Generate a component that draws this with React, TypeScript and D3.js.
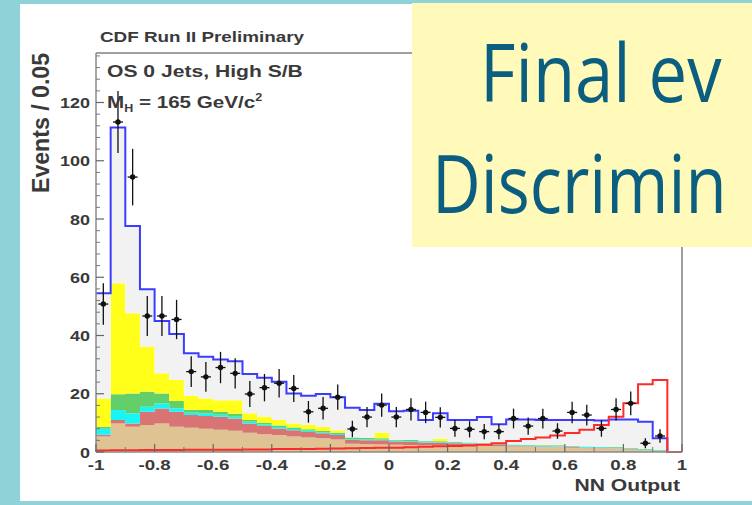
import React from "react";
import * as d3 from "d3";

// ---------- data (40 bins of width 0.05 from -1 to 1) ----------
const NBINS = 40;
const X_MIN = -1;
const BIN_W = 0.05;

// stacked background components (per-bin heights, bottom to top)
const tanBkg = [5.3, 9.8, 8.7, 9.3, 9.8, 8.7, 8.3, 8.0, 7.6, 7.3, 6.6, 6.1, 5.8, 5.3, 5.0, 4.7, 4.3, 2.8, 2.7, 2.6,
  2.5, 2.4, 2.3, 2.3, 2.2, 2.1, 2.2, 2.0, 1.9, 1.8, 1.7, 1.8, 1.5, 1.3, 1.3, 1.2, 0.9, 0.5, 0.3, 0];
const salmonBkg = [0.6, 1.2, 1.1, 4.5, 5.1, 5.1, 4.4, 4.4, 4.5, 4.2, 3.2, 2.8, 2.3, 2.2, 1.9, 1.7, 1.5, 1.3, 1.3, 1.4,
  1.1, 1.1, 1.0, 0.9, 0.8, 0.7, 0.4, 0.4, 0.3, 0.2, 0.2, 0.1, 0.2, 0.2, 0.1, 0.1, 0.1, 0.1, 0.1, 0];
const cyanBkg = [2.1, 3.4, 3.5, 1.7, 1.8, 1.2, 0.8, 0.8, 0.7, 0.6, 0.6, 0.5, 0.5, 0.4, 0.4, 0.4, 0.4, 0.3, 0.3, 0.3,
  0.3, 0.3, 0.3, 0.2, 0.2, 0.2, 0.2, 0.2, 0.2, 0.2, 0.2, 0.2, 0.2, 0.2, 0.2, 0.2, 0.2, 0.2, 0.2, 0];
const greenBkg = [0.7, 5.4, 6.8, 5.2, 3.4, 2.5, 1.0, 1.2, 1.0, 1.0, 0.6, 0.6, 0.5, 0.5, 0.5, 0.4, 0.4, 0.6, 0.5, 0.4,
  0.3, 0.3, 0.3, 0.3, 0.3, 0.3, 0.2, 0.2, 0.2, 0.2, 0.2, 0.2, 0.2, 0.2, 0.2, 0.2, 0.2, 0.2, 0.2, 0];
const yellowBkg = [9.7, 38.1, 27.5, 15.4, 6.9, 7.2, 4.8, 4.0, 4.0, 4.7, 2.3, 2.1, 1.9, 1.4, 1.5, 1.5, 0.9, 0, 0, 1.9,
  0, 0, 0, 0.8, 0, 0, 0, 0, 0, 0, 0, 0, 0, 0, 0, 0, 0, 0, 0, 0];
// total background (blue outline)
const totalBkg = [54.5, 111.4, 77.6, 55.9, 45.0, 40.5, 33.9, 32.7, 31.8, 31.2, 26.8, 25.5, 24.1, 20.1, 19.3, 19.9, 18.8,
  15.2, 14.4, 16.6, 14.0, 14.2, 11.0, 13.3, 11.0, 11.0, 12.0, 9.5, 11.2, 11.2, 11.0, 11.0, 11.0, 11.0, 10.8, 11.2,
  11.2, 10.4, 4.7, 0];
// Higgs signal (red line)
const signalHiggs = [0.5, 0.6, 0.6, 0.7, 0.7, 0.7, 0.8, 0.8, 0.8, 0.8, 0.9, 0.9, 1.0, 1.0, 1.0, 1.1, 1.2, 1.3, 1.4, 1.5,
  1.5, 1.6, 1.8, 2.0, 2.1, 2.2, 2.5, 3.0, 3.8, 4.5, 5.0, 5.7, 6.5, 7.6, 9.3, 12.1, 16.7, 23.3, 24.7, 0];
// observed data
const observed: (number | null)[] = [50.8, 113.3, 94.4, 46.7, 46.7, 45.5, 27.6, 25.8, 29.0, 27.0, 19.9, 22.1, 23.6,
  21.8, 13.8, 15.0, 18.8, 7.9, 12.0, 16.1, 12.0, 14.6, 13.6, 11.9, 8.1, 7.8, 7.0, 7.0, 11.5, 8.9, 11.5, 7.2, 13.6,
  12.7, 8.1, 14.6, 16.7, 3.0, 5.5, null];

const yTickValues = [0, 20, 40, 60, 80, 100, 120];
const yTickLabels = ["0", "20", "40", "60", "80", "100", "120"];
const xTickValues = [-1, -0.8, -0.6, -0.4, -0.2, 0, 0.2, 0.4, 0.6, 0.8, 1];
const xTickLabels = ["-1", "-0.8", "-0.6", "-0.4", "-0.2", "0", "0.2", "0.4", "0.6", "0.8", "1"];

const LAYER_KEYS = ["tan", "salmon", "cyan", "green", "yellow", "ww"];
const LAYER_COLORS: Record<string, string> = {
  tan: "#dfc393",
  salmon: "#d97474",
  cyan: "#19f5f5",
  green: "#63cf6a",
  yellow: "#ffff1a",
  ww: "#f2f2f2",
};

const FONT = "'Liberation Sans', Arial, Helvetica, sans-serif";
const BOX_FONT = "'Open Sans', 'Noto Sans', sans-serif";

function SText(props: {
  x: number; y: number; sx?: number; size?: number; anchor?: string; children: React.ReactNode; fill?: string;
}) {
  const { x, y, sx = 1.3, size = 15, anchor = "start", children, fill = "#3a3a3a" } = props;
  return (
    <g transform={`translate(${x},${y}) scale(${sx},1)`}>
      <text textAnchor={anchor as any} fontSize={size} fontWeight="bold" fill={fill} fontFamily={FONT}>
        {children}
      </text>
    </g>
  );
}

export default function App() {
  const W = 752;
  const H = 505;
  const x = d3.scaleLinear().domain([-1, 1]).range([96, 682]);
  const y = d3.scaleLinear().domain([0, 137]).range([452, 53]);

  const edges = d3.range(NBINS + 1).map((i) => X_MIN + i * BIN_W);
  const rows = d3.range(NBINS).map((i) => {
    const sum = tanBkg[i] + salmonBkg[i] + cyanBkg[i] + greenBkg[i] + yellowBkg[i];
    return {
      tan: tanBkg[i],
      salmon: salmonBkg[i],
      cyan: cyanBkg[i],
      green: greenBkg[i],
      yellow: yellowBkg[i],
      ww: Math.max(0, totalBkg[i] - sum),
    } as Record<string, number>;
  });
  const series = d3.stack<Record<string, number>>().keys(LAYER_KEYS)(rows);

  const area = d3
    .area<{ e: number; y0: number; y1: number }>()
    .x((d) => x(d.e))
    .y0((d) => y(d.y0))
    .y1((d) => y(d.y1))
    .curve(d3.curveStepAfter);

  const stepLine = d3
    .line<{ e: number; v: number }>()
    .x((d) => x(d.e))
    .y((d) => y(d.v))
    .curve(d3.curveStepAfter);

  const linePts = (vals: number[]) => {
    const pts = vals.map((v, i) => ({ e: edges[i], v }));
    pts.push({ e: edges[NBINS], v: vals[NBINS - 1] });
    return pts;
  };

  const yMinor = d3.range(0, 137, 4).filter((v) => v % 20 !== 0);
  const xMinor = d3.range(-1, 1.0001, 0.1).filter((v) => Math.abs(Math.round(v * 5) - v * 5) > 1e-6);

  return (
    <div style={{ position: "absolute", left: 0, top: 0, width: W, height: H, overflow: "hidden" }}>
      <svg width={W} height={H} viewBox={`0 0 ${W} ${H}`} style={{ display: "block" }}>
        {/* slide background */}
        <rect x={0} y={0} width={W} height={H} fill="#8fd3d9" />
        <rect x={20} y={4} width={W - 20} height={497} fill="#ffffff" />

        {/* stacked backgrounds */}
        {series.map((s) => {
          const pts = s.map((p, i) => ({ e: edges[i], y0: p[0], y1: p[1] }));
          const last = s[NBINS - 1];
          pts.push({ e: edges[NBINS], y0: last[0], y1: last[1] });
          return <path key={s.key} d={area(pts) || ""} fill={LAYER_COLORS[s.key]} stroke="none" />;
        })}

        {/* total background outline */}
        <path d={stepLine(linePts(totalBkg)) || ""} fill="none" stroke="#3c3cff" strokeWidth={2} />
        {/* signal */}
        <path d={stepLine(linePts(signalHiggs)) || ""} fill="none" stroke="#ff2a2a" strokeWidth={2} />

        {/* data points */}
        {observed.map((v, i) => {
          if (v == null) return null;
          const cx = x(edges[i] + BIN_W / 2);
          const cy = y(v);
          const err = Math.sqrt(v);
          return (
            <g key={i}>
              <line x1={cx} x2={cx} y1={y(v + err)} y2={y(Math.max(0, v - err))} stroke="#111" strokeWidth={1.3} />
              <line x1={cx - 5} x2={cx + 5} y1={cy} y2={cy} stroke="#111" strokeWidth={1.3} />
              <circle cx={cx} cy={cy} r={2.7} fill="#111" />
            </g>
          );
        })}

        {/* frame */}
        <line x1={96} x2={683} y1={53} y2={53} stroke="#a0a0a0" strokeWidth={2} />
        <line x1={682} x2={682} y1={53} y2={452} stroke="#a0a0a0" strokeWidth={2} />
        <line x1={96} x2={96} y1={53} y2={452} stroke="#8a8a8a" strokeWidth={1.5} />
        <line x1={96} x2={682} y1={452} y2={452} stroke="#8a8a8a" strokeWidth={1.5} />

        {/* y ticks */}
        {yTickValues.map((v) => (
          <line key={"ym" + v} x1={96} x2={104} y1={y(v)} y2={y(v)} stroke="#666" strokeWidth={1.2} />
        ))}
        {yMinor.map((v) => (
          <line key={"yn" + v} x1={96} x2={100} y1={y(v)} y2={y(v)} stroke="#777" strokeWidth={1} />
        ))}
        {yTickValues.map((v, i) => (
          <SText key={"yl" + v} x={90} y={y(v) + 5.5} anchor="end" size={15} sx={1.2}>
            {yTickLabels[i]}
          </SText>
        ))}

        {/* x ticks */}
        {xTickValues.map((v) => (
          <line key={"xm" + v} x1={x(v)} x2={x(v)} y1={452} y2={444} stroke="#666" strokeWidth={1.2} />
        ))}
        {xMinor.map((v) => (
          <line key={"xn" + v} x1={x(v)} x2={x(v)} y1={452} y2={447} stroke="#777" strokeWidth={1} />
        ))}
        {xTickValues.map((v, i) => (
          <SText key={"xl" + v} x={x(v)} y={470} anchor="middle" size={15} sx={1.25}>
            {xTickLabels[i]}
          </SText>
        ))}

        {/* axis titles */}
        <SText x={680} y={491} anchor="end" size={16.5} sx={1.28}>NN Output</SText>
        <g transform="translate(49,123) rotate(-90) scale(1,1.15)">
          <text
            textAnchor="middle"
            fontSize={21}
            fontWeight="bold"
            fill="#3a3a3a"
            fontFamily={FONT}
            textLength={140}
            lengthAdjust="spacingAndGlyphs"
          >
            Events / 0.05
          </text>
        </g>

        {/* header and labels */}
        <SText x={100} y={42} size={14.5} sx={1.3}>CDF Run II Preliminary</SText>
        <SText x={107} y={77} size={16.5} sx={1.28}>OS 0 Jets, High S/B</SText>
        <SText x={107} y={108} size={16.5} sx={1.25}>
          <tspan>M</tspan>
          <tspan fontSize={10} dy={4}>H</tspan>
          <tspan dy={-4}> = 165 GeV/c</tspan>
          <tspan fontSize={10} dy={-7}>2</tspan>
        </SText>

        {/* slide text box (cut by the slide edge in the reference) */}
        <rect x={412} y={3} width={W - 412} height={244} fill="#fffab9" />
        <g transform="translate(480,102) scale(0.86,1)">
          <text x={0} y={0} fontSize={80} fill="#0b5e80" fontFamily={BOX_FONT}>
            Final ev
          </text>
        </g>
        <g transform="translate(432,213) scale(0.84,1)">
          <text x={0} y={0} fontSize={80} fill="#0b5e80" fontFamily={BOX_FONT}>
            Discrimin
          </text>
        </g>
      </svg>
    </div>
  );
}
